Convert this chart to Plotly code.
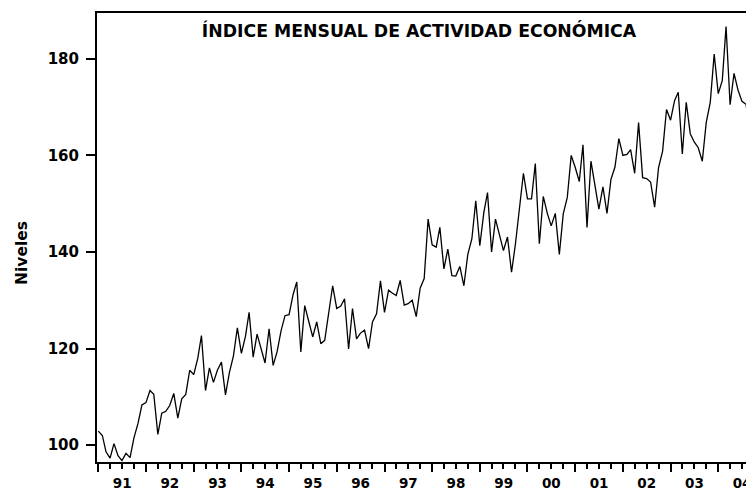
import pandas as pd
import plotly.graph_objects as go

# Monthly index, one list per year (Jan..Dec)
v1991 = [102.9, 102.0, 98.6, 97.3, 100.3, 97.8, 96.8, 98.3, 97.4, 101.5, 104.5, 108.3]
v1992 = [108.8, 111.3, 110.5, 102.2, 106.6, 107.0, 108.2, 110.7, 105.6, 109.6, 110.5, 115.5]
v1993 = [114.6, 118.0, 122.7, 111.3, 116.0, 113.0, 115.5, 117.2, 110.4, 115.0, 118.5, 124.3]
v1994 = [119.0, 122.5, 127.5, 118.2, 123.0, 120.2, 117.0, 124.1, 116.5, 119.3, 123.7, 126.8]
v1995 = [127.0, 131.2, 133.8, 119.3, 128.9, 125.6, 122.4, 125.5, 121.0, 121.7, 127.5, 133.0]
v1996 = [128.3, 128.8, 130.3, 119.9, 128.3, 122.0, 123.2, 123.8, 120.0, 125.5, 127.2, 134.0]
v1997 = [127.5, 132.1, 131.5, 131.0, 134.1, 129.0, 129.3, 130.0, 126.6, 132.5, 134.5, 146.8]
v1998 = [141.5, 141.0, 145.1, 136.5, 140.6, 135.1, 135.0, 137.0, 133.0, 139.5, 142.7, 150.6]
v1999 = [141.3, 148.2, 152.3, 140.0, 146.8, 143.2, 140.3, 143.1, 135.8, 141.7, 148.8, 156.3]
v2000 = [151.0, 151.0, 158.3, 141.7, 151.5, 148.0, 145.4, 148.0, 139.5, 147.9, 151.3, 160.0]
v2001 = [157.5, 154.6, 162.2, 145.1, 158.8, 153.7, 148.9, 153.5, 148.0, 155.0, 157.6, 163.5]
v2002 = [160.0, 160.2, 161.2, 156.3, 166.8, 155.4, 155.2, 154.5, 149.3, 157.5, 160.9, 169.5]
v2003 = [167.3, 171.4, 173.1, 160.3, 171.0, 164.5, 162.8, 161.6, 158.8, 166.8, 171.0, 181.0]
v2004 = [172.8, 175.5, 186.7, 170.5, 177.0, 173.5, 171.2, 170.6, 164.2, 172.9]

y_ticks = [100, 120, 140, 160, 180]

values = (v1991 + v1992 + v1993 + v1994 + v1995 + v1996 + v1997
          + v1998 + v1999 + v2000 + v2001 + v2002 + v2003 + v2004)
dates = pd.date_range('1991-01-01', periods=len(values), freq='MS')

bold = dict(family='DejaVu Sans', color='black', weight='bold')

# the page body has an 8px margin, so the figure is 8px smaller than the window
W, H = 746, 483

fig = go.Figure(go.Scatter(x=dates, y=values, mode='lines',
                           line=dict(color='black', width=1.3),
                           showlegend=False))

fig.update_layout(
    width=W, height=H,
    margin=dict(l=89, r=0, t=5, b=27),
    paper_bgcolor='white', plot_bgcolor='white',
    title=dict(text='ÍNDICE MENSUAL DE ACTIVIDAD ECONÓMICA',
               font=dict(size=17.3, **bold),
               x=411 / W, xanchor='center',
               y=1 - 23 / H, yanchor='middle', yref='container'),
    xaxis=dict(type='date', range=['1990-12-22', '2004-10-01'],
               showline=True, linecolor='black', linewidth=2, mirror=True,
               showgrid=False, zeroline=False,
               tickmode='linear', tick0='1991-01-01', dtick='M12',
               tickformat='%y', ticklabelmode='period',
               ticks='outside', ticklen=8, tickwidth=1.5, tickcolor='black',
               minor=dict(dtick='M3', tick0='1991-01-01', ticks='outside',
                          ticklen=5, tickwidth=1.5, tickcolor='black'),
               tickfont=dict(size=13.5, **bold)),
    yaxis=dict(range=[96.5, 189.5], tickvals=y_ticks,
               showline=True, linecolor='black', linewidth=2,
               showgrid=False, zeroline=False,
               ticks='outside', ticklen=9, tickwidth=1.5, tickcolor='black',
               ticklabelstandoff=4,
               tickfont=dict(size=15, **bold)),
    annotations=[dict(text='Niveles', textangle=-90, showarrow=False,
                      xref='paper', yref='paper',
                      x=(14 - 89) / 657, y=(456 - 246) / 451,
                      xanchor='center', yanchor='middle',
                      font=dict(size=15.5, **bold))],
)

fig.write_html('out.html')
